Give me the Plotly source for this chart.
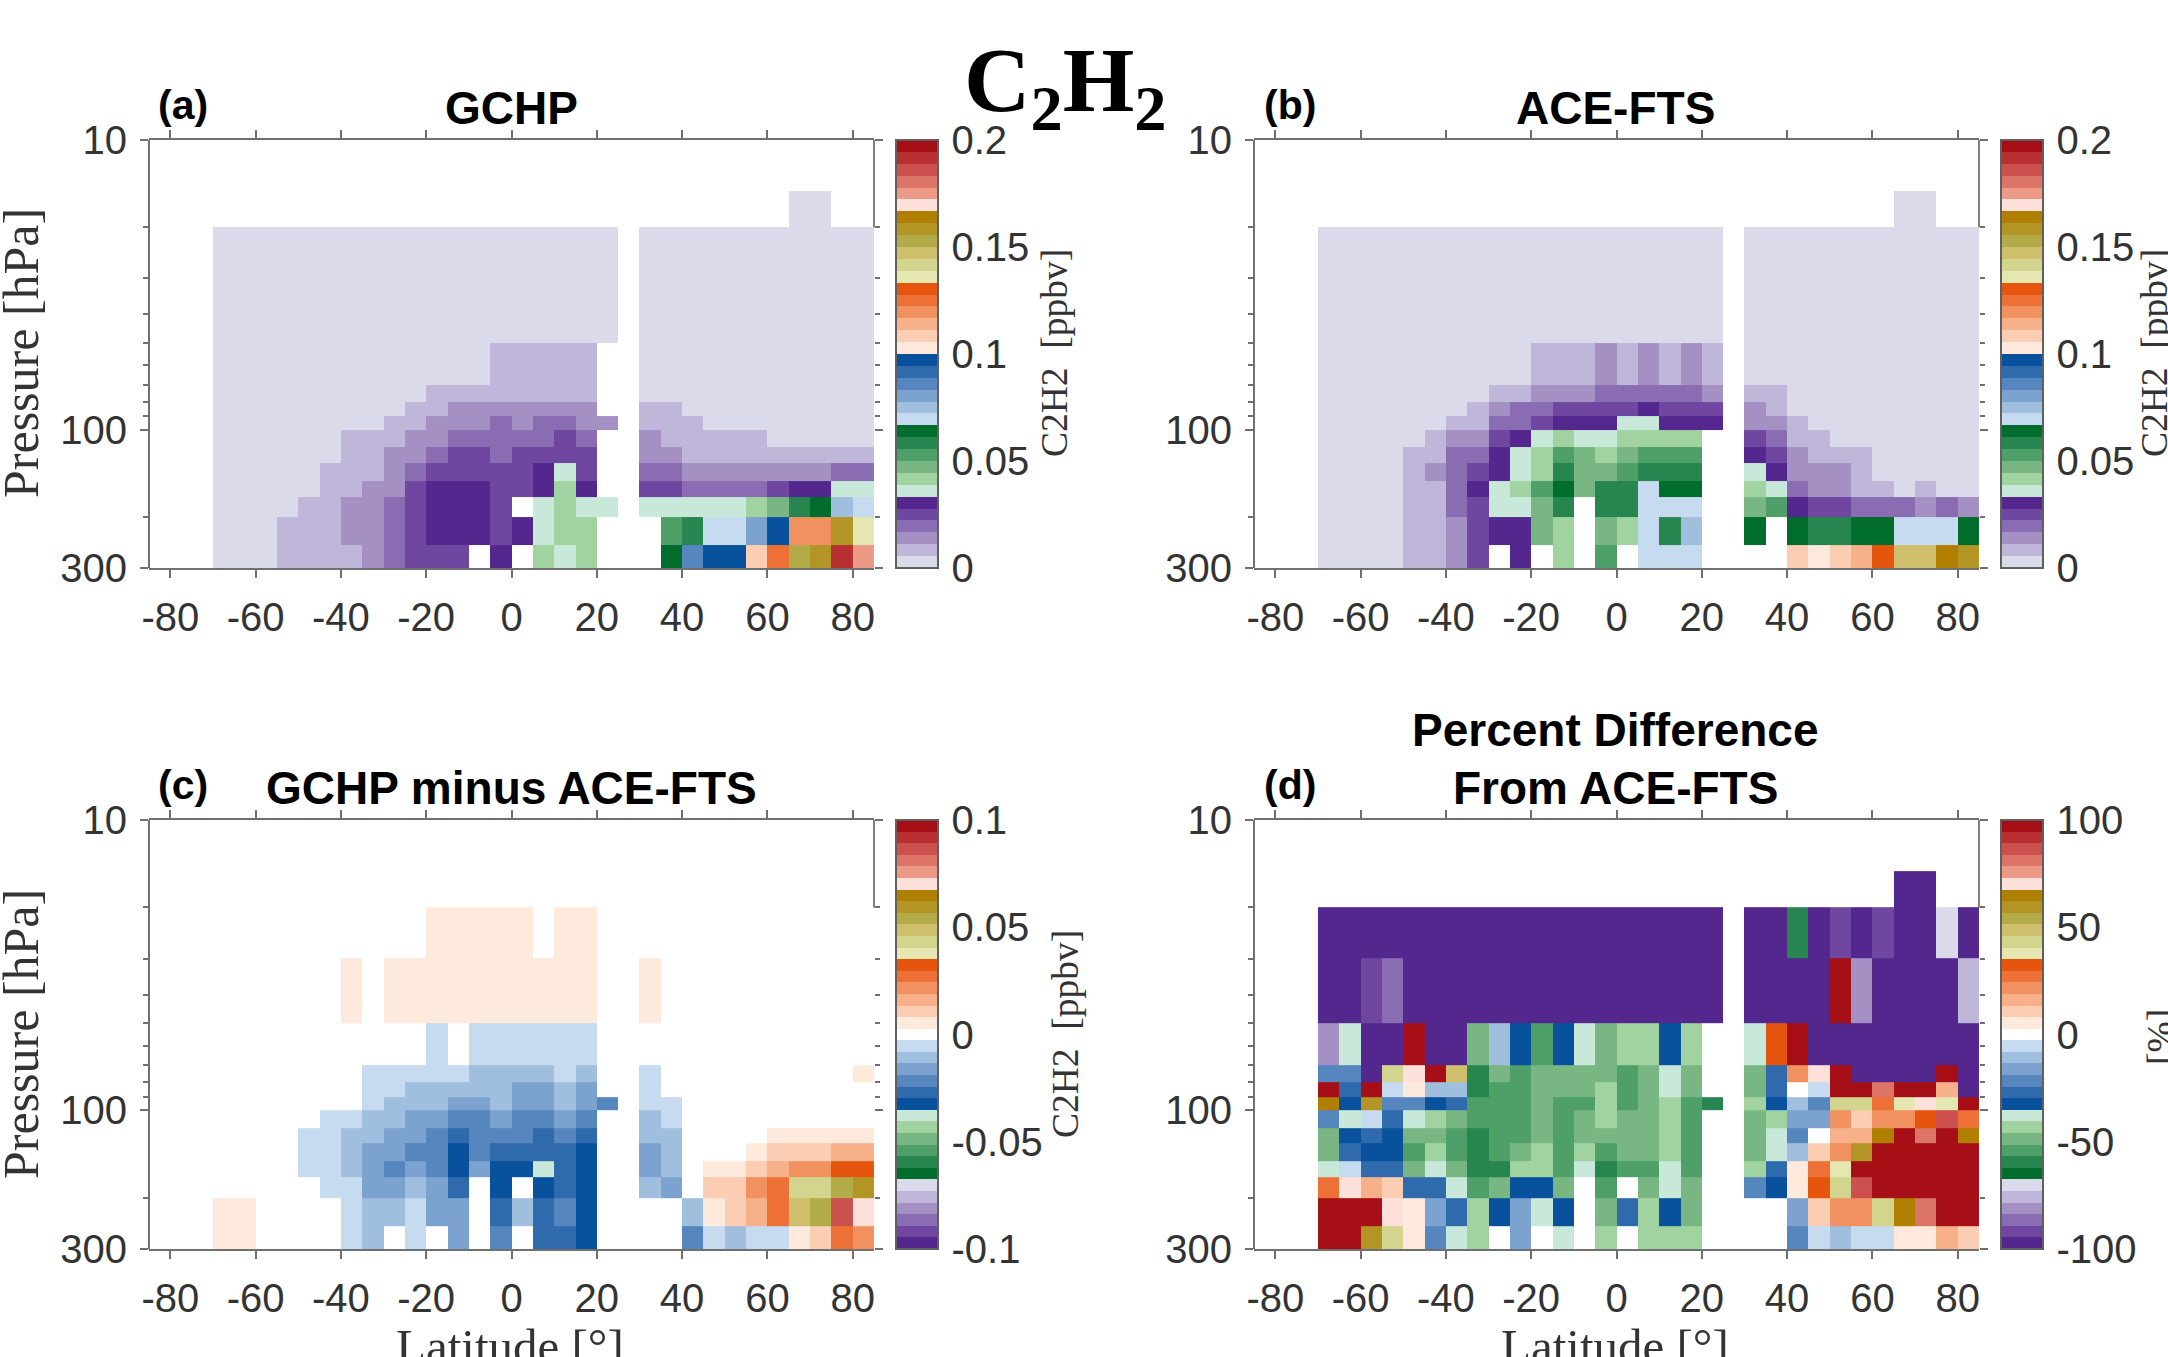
import math
import plotly.graph_objects as go

N = None
lat_edges = list(range(-70, 90, 5))
p_edges = [15, 20, 30, 50, 70, 80, 90, 100, 115, 130, 150, 170, 200, 250, 300]
lat_ticks = [-80, -60, -40, -20, 0, 20, 40, 60, 80]
lat_labels = ["-80", "-60", "-40", "-20", "0", "20", "40", "60", "80"]
p_major = [10, 100, 300]
p_minor = [20, 30, 40, 50, 60, 70, 80, 90, 200]

purples = ["#dadaeb", "#c0b6da", "#a590c4", "#8a6cb2", "#6f47a0", "#54278f"]
greens = ["#c8e9da", "#a1d3a0", "#78b783", "#4f9f68", "#278650", "#006d2c"]
blues = ["#c6dbef", "#a0bede", "#7ca3cf", "#5586bd", "#2f6bac", "#08519c"]
oranges = ["#feeadc", "#fbcdb2", "#f6b08a", "#f29160", "#ed7137", "#e6550d"]
olives = ["#e6e6b0", "#d3d58f", "#cfbf6c", "#b3aa48", "#b39525", "#b07f00"]
reds = ["#fde0da", "#ec9a86", "#dc7468", "#cb504e", "#b82f32", "#a50f15"]

# colour-bin number read for each cell, top row (15-20 hPa) to bottom row (250-300 hPa)
gchp_bins = [
 [N,N,N,N,N,N,N,N,N,N,N,N,N,N,N,N,N,N,N,N,N,N,N,N,N,N,N,0,0,N,N],
 [0,0,0,0,0,0,0,0,0,0,0,0,0,0,0,0,0,0,0,N,0,0,0,0,0,0,0,0,0,0,0],
 [0,0,0,0,0,0,0,0,0,0,0,0,0,0,0,0,0,0,0,N,0,0,0,0,0,0,0,0,0,0,0],
 [0,0,0,0,0,0,0,0,0,0,0,0,0,1,1,1,1,1,N,N,0,0,0,0,0,0,0,0,0,0,0],
 [0,0,0,0,0,0,0,0,0,0,1,1,1,1,1,1,1,1,N,N,0,0,0,0,0,0,0,0,0,0,0],
 [0,0,0,0,0,0,0,0,0,1,1,2,2,2,2,2,2,2,N,N,1,1,0,0,0,0,0,0,0,0,0],
 [0,0,0,0,0,0,0,0,1,1,2,2,2,3,2,3,3,2,2,N,1,1,1,0,0,0,0,0,0,0,0],
 [0,0,0,0,0,0,1,1,1,2,2,3,3,3,3,3,4,3,N,N,2,1,1,1,1,1,0,0,0,0,0],
 [0,0,0,0,0,0,1,1,2,2,3,4,4,3,4,4,4,4,N,N,2,2,1,1,1,1,1,1,1,1,1],
 [0,0,0,0,0,1,1,1,2,3,4,4,4,4,4,5,6,4,N,N,3,3,2,2,2,2,2,2,2,3,3],
 [0,0,0,0,0,1,1,2,2,4,5,5,5,4,4,5,7,5,N,N,4,4,3,3,3,3,4,5,5,6,6],
 [0,0,0,0,1,1,2,2,3,4,5,5,5,4,N,6,7,6,6,N,6,6,6,6,6,7,8,10,11,13,12],
 [0,0,0,1,1,1,2,2,3,4,5,5,5,4,5,6,7,7,N,N,N,9,10,12,12,14,17,21,21,28,24],
 [0,0,0,1,1,1,1,2,3,4,4,4,N,5,N,7,6,7,N,N,N,11,15,17,17,19,22,27,28,34,31],
]
ace_bins = [
 [N,N,N,N,N,N,N,N,N,N,N,N,N,N,N,N,N,N,N,N,N,N,N,N,N,N,N,0,0,N,N],
 [0,0,0,0,0,0,0,0,0,0,0,0,0,0,0,0,0,0,0,N,0,0,0,0,0,0,0,0,0,0,0],
 [0,0,0,0,0,0,0,0,0,0,0,0,0,0,0,0,0,0,0,N,0,0,0,0,0,0,0,0,0,0,0],
 [0,0,0,0,0,0,0,0,0,0,1,1,1,2,1,2,1,2,1,N,0,0,0,0,0,0,0,0,0,0,0],
 [0,0,0,0,0,0,0,0,1,1,2,2,2,3,3,3,3,3,2,N,1,1,0,0,0,0,0,0,0,0,0],
 [0,0,0,0,0,0,0,1,2,3,3,4,4,4,4,5,4,4,4,N,2,1,0,0,0,0,0,0,0,0,0],
 [0,0,0,0,0,0,1,1,3,3,4,5,5,5,6,6,5,5,5,N,2,2,1,0,0,0,0,0,0,0,0],
 [0,0,0,0,0,1,2,2,4,5,6,7,6,6,7,7,7,7,N,N,4,3,1,1,0,0,0,0,0,0,0],
 [0,0,0,0,1,1,3,3,5,6,7,9,8,7,8,9,9,9,N,N,5,4,2,1,1,1,0,0,0,0,0],
 [0,0,0,0,1,2,3,4,5,6,7,10,8,8,9,10,10,10,N,N,6,5,2,2,2,1,0,0,0,0,0],
 [0,0,0,0,1,1,3,5,6,7,9,11,8,10,10,12,11,11,N,N,7,6,3,2,2,1,1,0,1,0,0],
 [0,0,0,0,1,1,3,4,6,6,8,10,N,10,10,12,12,12,N,N,8,9,5,4,4,3,3,3,2,3,2],
 [0,0,0,0,1,1,2,4,5,5,8,7,N,8,7,12,10,13,N,N,11,N,11,10,10,11,11,12,12,12,11],
 [0,0,0,0,1,1,2,4,N,5,N,7,N,9,N,12,12,12,N,N,N,N,19,18,19,20,23,26,26,29,28],
]
diff_bins = [
 [N,N,N,N,N,N,N,N,N,N,N,N,N,N,N,N,N,N,N,N,N,N,N,N,N,N,N,N,N,N,N],
 [0,0,0,0,0,0,0,0,0,0,1,1,1,1,1,0,1,1,0,0,0,0,0,0,0,0,0,0,0,0,0],
 [0,0,0,0,0,0,1,0,1,1,1,1,1,1,1,1,1,1,0,0,1,0,0,0,0,0,0,0,0,0,0],
 [0,0,0,0,0,0,0,0,0,0,-1,0,-1,-1,-1,-1,-1,-1,0,0,0,0,0,0,0,0,0,0,0,0,0],
 [0,0,0,0,0,0,0,-1,-1,-1,-1,-1,-2,-2,-2,-2,-1,-2,0,0,-1,0,0,0,0,0,0,0,0,0,1],
 [0,0,0,0,0,0,0,-1,-1,-2,-2,-2,-2,-2,-3,-3,-2,-3,0,0,-1,0,0,0,0,0,0,0,0,0,0],
 [0,0,0,0,0,0,0,-1,-2,-2,-2,-3,-3,-2,-3,-3,-2,-3,-4,0,-1,-1,0,0,0,0,0,0,0,0,0],
 [0,0,0,0,0,-1,-1,-2,-2,-3,-3,-4,-4,-3,-4,-4,-3,-4,0,0,-2,-1,0,0,0,0,0,0,0,0,0],
 [0,0,0,0,-1,-1,-2,-2,-3,-3,-4,-5,-4,-4,-4,-5,-4,-5,0,0,-2,-2,0,0,0,0,1,1,1,1,1],
 [0,0,0,0,-1,-1,-2,-3,-3,-4,-4,-6,-4,-5,-5,-5,-5,-6,0,0,-3,-2,0,0,0,1,2,2,2,3,3],
 [0,0,0,0,-1,-1,-2,-3,-4,-3,-4,-6,-3,-6,-6,-7,-5,-6,0,0,-3,-2,0,1,1,2,3,4,4,6,6],
 [0,0,0,0,0,-1,-1,-3,-3,-2,-3,-5,0,-6,0,-6,-5,-6,0,0,-2,-3,0,2,2,4,5,8,8,10,11],
 [1,1,0,0,0,0,-1,-2,-2,-1,-3,-3,0,-5,-2,-5,-4,-6,0,0,0,0,-2,1,2,3,5,9,10,16,13],
 [1,1,0,0,0,0,-1,-2,0,-1,0,-3,0,-4,0,-5,-5,-6,0,0,0,0,-4,-1,-2,-1,-1,1,2,5,4],
]
pct_bins = [
 [N,N,N,N,N,N,N,N,N,N,N,N,N,N,N,N,N,N,N,N,N,N,N,N,N,N,N,-18,-18,N,N],
 [-18,-18,-18,-18,-18,-18,-18,-18,-18,-18,-18,-18,-18,-18,-18,-18,-18,-18,-18,N,-18,-18,-11,-18,-17,-18,-17,-18,-18,-13,-18],
 [-18,-18,-17,-16,-18,-18,-18,-18,-18,-18,-18,-18,-18,-18,-18,-18,-18,-18,-18,N,-18,-18,-18,-18,18,-15,-18,-18,-18,-18,-14],
 [-15,-7,-18,-18,18,-18,-18,-9,-2,-6,-10,-6,-7,-9,-8,-8,-6,-8,0,0,-7,6,18,-18,-18,-18,-18,-18,-18,-18,-18],
 [-4,-4,-18,8,13,18,9,-11,-9,-10,-9,-9,-9,-9,-10,-9,-7,-9,0,0,-9,-5,4,13,18,-18,-18,-18,-18,18,-18],
 [18,-5,18,-1,1,-2,-2,-11,-10,-10,-9,-9,-9,-8,-10,-9,-7,-9,0,0,-9,-5,0,-1,18,18,15,18,18,3,-18],
 [12,-6,11,-4,-4,-6,-5,-10,-10,-10,-9,-10,-10,-8,-10,-9,-8,-10,-11,0,-8,-6,-2,-4,8,8,5,7,13,7,18],
 [-4,-7,-1,-5,-7,-8,-9,-10,-10,-10,-9,-10,-9,-8,-9,-9,-8,-10,0,0,-9,-8,-3,-3,4,2,4,4,6,16,5],
 [-9,-6,-5,-6,-9,-9,-10,-11,-10,-10,-9,-10,-9,-9,-9,-9,-8,-10,0,0,-9,-7,-4,0,3,3,12,18,15,18,12],
 [-9,-5,-6,-6,-10,-8,-10,-11,-10,-9,-8,-10,-8,-10,-9,-9,-8,-10,0,0,-9,-7,-2,2,4,11,18,18,18,18,18],
 [-7,-1,-5,-5,-9,-7,-9,-11,-11,-8,-8,-10,-7,-11,-10,-10,-7,-10,0,0,-8,-5,1,5,7,18,18,18,18,18,18],
 [5,13,3,2,-5,-5,-7,-10,-9,-6,-6,-9,0,-10,0,-9,-7,-9,0,0,-4,-6,1,6,8,16,18,18,18,18,18],
 [18,18,18,13,1,-3,-5,-8,-6,-3,-7,-6,0,-9,-5,-8,-6,-9,0,0,0,0,-3,2,4,4,8,12,15,18,18],
 [18,18,11,8,1,-4,-7,-8,0,-3,0,-7,0,-8,0,-8,-8,-8,0,0,0,0,-4,-1,-2,-1,-1,1,1,3,2],
]

W, H = 2168, 1357
fx = lambda x: x / W
fy = lambda y: 1 - y / H


def stepped(colors):
    out = []
    n = len(colors)
    for i, c in enumerate(colors):
        out.append([i / n, c])
        out.append([(i + 1) / n, c])
    return out


def zvalues(bins, width, offset):
    return [[None if b is None else (b + offset) * width for b in row] for row in bins]


seq = purples + greens + blues + oranges + olives + reds
div = purples[::-1] + greens[::-1] + blues[::-1] + ["#ffffff"] + oranges + olives + reds

TXT = "#333333"
LINE = "#707070"
SANS = "Liberation Sans"
SERIF = "Liberation Serif"

panels = [
    dict(bins=gchp_bins, colors=seq, zr=(0, 0.2), w=0.2 / 36, off=0.5, box=(149, 874, 140, 568),
         cbx=896, tv=[0, 0.05, 0.1, 0.15, 0.2], tt=["0", "0.05", "0.1", "0.15", "0.2"]),
    dict(bins=ace_bins, colors=seq, zr=(0, 0.2), w=0.2 / 36, off=0.5, box=(1254, 1979, 140, 568),
         cbx=2001, tv=[0, 0.05, 0.1, 0.15, 0.2], tt=["0", "0.05", "0.1", "0.15", "0.2"]),
    dict(bins=diff_bins, colors=div, zr=(-0.1, 0.1), w=0.2 / 37, off=0, box=(149, 874, 820, 1249),
         cbx=896, tv=[-0.1, -0.05, 0, 0.05, 0.1], tt=["-0.1", "-0.05", "0", "0.05", "0.1"]),
    dict(bins=pct_bins, colors=div, zr=(-100, 100), w=200 / 37, off=0, box=(1254, 1979, 820, 1249),
         cbx=2001, tv=[-100, -50, 0, 50, 100], tt=["-100", "-50", "0", "50", "100"]),
]

fig = go.Figure()
layout = {}
shapes = []
for i, p in enumerate(panels):
    for row in p["bins"]:
        assert len(row) == 31, (i, row)
    s = "" if i == 0 else str(i + 1)
    x0, x1, y0, y1 = p["box"]
    fig.add_trace(go.Heatmap(
        x=lat_edges, y=p_edges, z=zvalues(p["bins"], p["w"], p["off"]),
        xaxis="x" + s, yaxis="y" + s,
        zmin=p["zr"][0], zmax=p["zr"][1],
        colorscale=stepped(p["colors"]), hoverongaps=False,
        colorbar=dict(
            x=fx(p["cbx"]), xanchor="left", xpad=0,
            y=fy(y1), yanchor="bottom", ypad=0, len=(y1 - y0) / H, lenmode="fraction",
            thickness=42, thicknessmode="pixels",
            outlinecolor="#606060", outlinewidth=2,
            tickmode="array", tickvals=p["tv"], ticktext=p["tt"],
            ticks="outside", ticklen=5, tickcolor="rgba(0,0,0,0)",
            tickfont=dict(family=SANS, size=40, color=TXT),
        ),
    ))
    layout["xaxis" + s] = dict(
        domain=[fx(x0), fx(x1)], range=[-85, 85], anchor="y" + s,
        tickmode="array", tickvals=lat_ticks, ticktext=lat_labels,
        ticks="outside", ticklen=8, tickwidth=1.5, ticklabelstandoff=5,
        tickcolor=LINE, showline=True, linecolor=LINE, linewidth=2, mirror="ticks",
        showgrid=False, zeroline=False, tickfont=dict(family=SANS, size=40, color=TXT),
    )
    layout["yaxis" + s] = dict(
        domain=[fy(y1), fy(y0)], type="log", range=[math.log10(300), 1], anchor="x" + s,
        tickmode="array", tickvals=p_major, ticks="outside", ticklen=8, tickwidth=2,
        tickcolor=LINE, showline=False, mirror="ticks", ticklabelstandoff=5,
        showgrid=False, zeroline=False, tickfont=dict(family=SANS, size=40, color=TXT),
        minor=dict(tickmode="array", tickvals=p_minor, ticks="outside", ticklen=5,
                   tickwidth=1.5, tickcolor=LINE, showgrid=False),
    )
    xd, yd = "x" + s + " domain", "y" + s + " domain"
    shapes.append(dict(type="line", xref=xd, yref=yd, x0=0, x1=0, y0=0, y1=1,
                       line=dict(color=LINE, width=2)))
    shapes.append(dict(type="line", xref=xd, yref="y" + s, x0=1, x1=1, y0=10, y1=20,
                       line=dict(color="#555555", width=1.5)))


def note(text, x, y, size, family=SANS, bold=False, angle=0, anchor="center", color="#000000"):
    return dict(
        text=f"<b>{text}</b>" if bold else text, x=fx(x), y=fy(y), xref="paper", yref="paper",
        showarrow=False, xanchor=anchor, yanchor="middle", textangle=angle,
        font=dict(family=family, size=size, color=color),
    )


annotations = [
    note("C<sub>2</sub>H<sub>2</sub>", 1065, 86, 92, SERIF, True),
    note("GCHP", 511, 108, 46, bold=True),
    note("ACE-FTS", 1615, 108, 46, bold=True),
    note("GCHP minus ACE-FTS", 511, 788, 46, bold=True),
    note("Percent Difference", 1615, 730, 46, bold=True),
    note("From ACE-FTS", 1615, 788, 46, bold=True),
    note("(a)", 156, 105, 41, bold=True, anchor="left"),
    note("(b)", 1262, 105, 41, bold=True, anchor="left"),
    note("(c)", 156, 785, 41, bold=True, anchor="left"),
    note("(d)", 1262, 785, 41, bold=True, anchor="left"),
    note("Pressure [hPa]", 21, 353, 50, SERIF, angle=-90, color=TXT),
    note("Pressure [hPa]", 21, 1034, 50, SERIF, angle=-90, color=TXT),
    note("C2H2  [ppbv]", 1054, 353, 37.5, SERIF, angle=-90, color=TXT),
    note("C2H2  [ppbv]", 2154, 353, 37.5, SERIF, angle=-90, color=TXT),
    note("C2H2  [ppbv]", 1065, 1034, 37.5, SERIF, angle=-90, color=TXT),
    note("[%]", 2160, 1037, 37.5, SERIF, angle=-90, color=TXT),
    note("Latitude [°]", 510, 1346, 49, SERIF, color=TXT),
    note("Latitude [°]", 1615, 1346, 49, SERIF, color=TXT),
]

fig.update_layout(
    width=W, height=H, autosize=False,
    margin=dict(l=0, r=0, t=0, b=0, autoexpand=False),
    paper_bgcolor="white", plot_bgcolor="white",
    annotations=annotations, shapes=shapes, **layout,
)

fig.write_html(
    "out.html",
    config={"displayModeBar": False},
    post_script="document.body.style.margin='0';document.documentElement.style.overflow='hidden';",
)
